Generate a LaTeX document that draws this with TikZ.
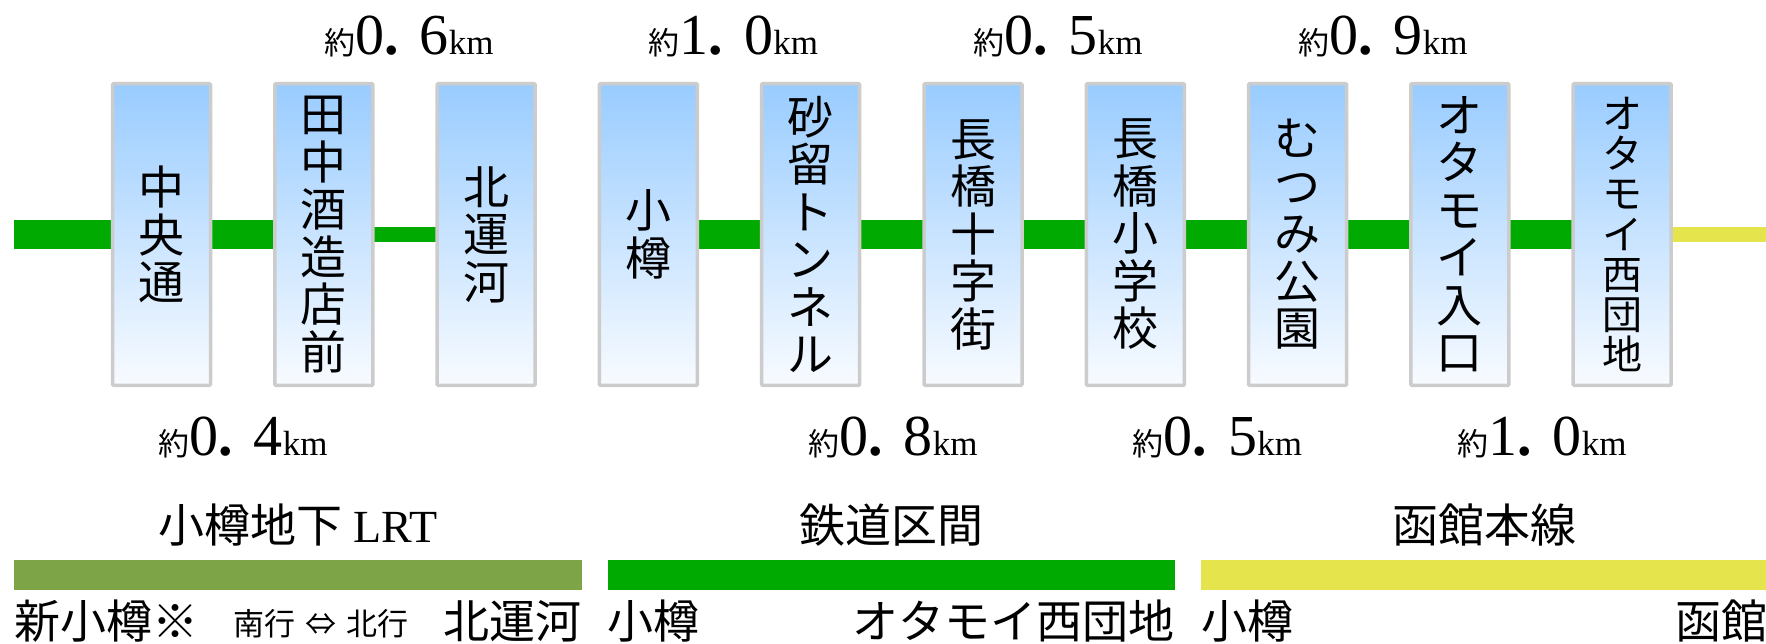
\documentclass[tikz,border=0pt]{standalone}
\usepackage{fontspec}
\setmainfont{Noto Sans CJK JP}
\newfontfamily\lserif{Liberation Serif}
\usetikzlibrary{backgrounds}
\definecolor{rail}{RGB}{0,170,0}
\definecolor{lrtc}{RGB}{125,165,72}
\definecolor{hako}{RGB}{230,228,76}
\definecolor{boxtop}{RGB}{153,204,255}
\definecolor{boxbot}{RGB}{248,251,255}
\definecolor{boxedge}{RGB}{204,204,204}
\newcommand\kmlbl[2]{{\fontsize{31}{31}\selectfont 約}{\lserif\fontsize{58}{58}\selectfont #1\textbf{.}\hspace{21pt}#2}{\lserif\fontsize{35}{35}\selectfont km}}
\begin{document}
\begin{tikzpicture}[x=1pt,y=-1pt,
  station/.style={draw=boxedge, line width=3.5pt, top color=boxtop, bottom color=boxbot,
    rounded corners=1pt, inner sep=0pt, minimum width=98pt, minimum height=301.5pt,
    align=center, font=\fontsize{46}{47.5}\selectfont},
  thickline/.style={draw=rail, line width=29pt},
  thinline/.style={draw=rail, line width=15pt},
  yellowline/.style={draw=hako, line width=15pt},
  kmlabel/.style={inner sep=0pt, anchor=base},
  title/.style={inner sep=0pt, anchor=base, font=\fontsize{46}{46}\selectfont},
  endlbl/.style={inner sep=0pt, font=\fontsize{46}{46}\selectfont},
  dirlbl/.style={inner sep=0pt, anchor=base, font=\fontsize{31}{31}\selectfont}]
\useasboundingbox (0,0) rectangle (1766,644);

% stations
\node[station] (s1) at (161.5,234.5) {中\\央\\通};
\node[station] (s2) at (323.8,234.5) {田\\中\\酒\\造\\店\\前};
\node[station] (s3) at (486.1,234.5) {北\\運\\河};
\node[station] (s4) at (648.4,234.5) {小\\樽};
\node[station] (s5) at (810.7,234.5) {砂\\留\\ト\\ン\\ネ\\ル};
\node[station] (s6) at (973.0,234.5) {長\\橋\\十\\字\\街};
\node[station] (s7) at (1135.3,234.5) {長\\橋\\小\\学\\校};
\node[station] (s8) at (1297.6,234.5) {む\\つ\\み\\公\\園};
\node[station] (s9) at (1459.9,234.5) {オ\\タ\\モ\\イ\\入\\口};
\node[station, font=\fontsize{40}{40.3}\selectfont] (s10) at (1622.2,234.5) {オ\\タ\\モ\\イ\\西\\団\\地};

\coordinate (lstart) at (14,234.5);
\coordinate (lend) at (1766,234.5);

\begin{scope}[on background layer]
\draw[thickline] (lstart) -- (s1.center);
\draw[thickline] (s1.center) -- (s2.center);
\draw[thinline] (s2.center) -- (s3.center);
\draw[thickline] (s4.center) -- (s5.center);
\draw[thickline] (s5.center) -- (s6.center);
\draw[thickline] (s6.center) -- (s7.center);
\draw[thickline] (s7.center) -- (s8.center);
\draw[thickline] (s8.center) -- (s9.center);
\draw[thickline] (s9.center) -- (s10.center);
\draw[yellowline] (s10.center) -- (lend);
\end{scope}

% distance labels
\node[kmlabel] (k23) at (409,55) {\kmlbl{0}{6}};
\node[kmlabel] (k45) at (733.5,55) {\kmlbl{1}{0}};
\node[kmlabel] (k67) at (1058,55) {\kmlbl{0}{5}};
\node[kmlabel] (k89) at (1383,55) {\kmlbl{0}{9}};
\node[kmlabel] (k12) at (243,455) {\kmlbl{0}{4}};
\node[kmlabel] (k56) at (893,455) {\kmlbl{0}{8}};
\node[kmlabel] (k78) at (1217.5,455) {\kmlbl{0}{5}};
\node[kmlabel] (k910) at (1542,455) {\kmlbl{1}{0}};

% legend
\node[title] (tA) at (298,542) {小樽地下 {\lserif LRT}};
\node[title] (tB) at (891,542) {鉄道区間};
\node[title] (tC) at (1484,542) {函館本線};

\fill[lrtc] (14,560) rectangle (581.7,589.5);
\fill[rail] (607.5,560) rectangle (1175,589.5);
\fill[hako] (1201,560) rectangle (1766,589.5);

\node[endlbl, anchor=base west] (eA1) at (14,638) {新小樽※};
\node[dirlbl] (dir) at (321,635) {南行\hspace{10pt}⇔\hspace{10pt}北行};
\node[endlbl, anchor=base east] (eA2) at (581.7,638) {北運河};
\node[endlbl, anchor=base west] (eB1) at (607.5,638) {小樽};
\node[endlbl, anchor=base east] (eB2) at (1175,638) {オタモイ西団地};
\node[endlbl, anchor=base west] (eC1) at (1201,638) {小樽};
\node[endlbl, anchor=base east] (eC2) at (1768,638) {函館};
\end{tikzpicture}
\end{document}
